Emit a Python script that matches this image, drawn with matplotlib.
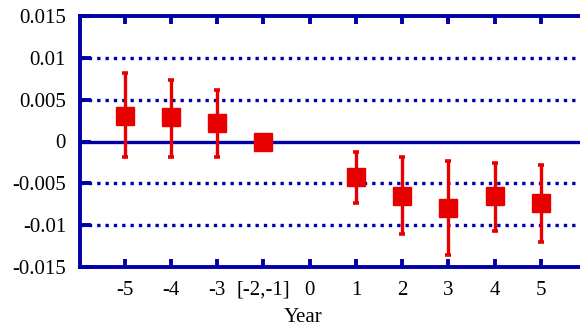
import matplotlib
matplotlib.use("Agg")
import matplotlib.pyplot as plt
import numpy as np

# data
labels = ['-5', '-4', '-3', '[-2,-1]', '0', '1', '2', '3', '4', '5']
estimate = [0.0031, 0.0029, 0.0022, 0.0, np.nan, -0.0043, -0.0065, -0.0079, -0.0065, -0.0073]
upper = [0.0082, 0.0074, 0.0062, 0.0, np.nan, -0.0012, -0.0019, -0.0023, -0.0026, -0.0028]
lower = [-0.0019, -0.0018, -0.0019, 0.0, np.nan, -0.0073, -0.0111, -0.0136, -0.0107, -0.0120]

blue = '#0000A8'
red = '#E80000'

plt.rcParams['font.family'] = ['Liberation Serif', 'DejaVu Serif']

fig = plt.figure(figsize=(5.8, 3.28), dpi=100)
ax = fig.add_axes([80 / 580, 1 - 267 / 328, 1 - 80 / 580, (267 - 16) / 328])

x = np.arange(len(labels))
est = np.array(estimate)
yerr = np.vstack([est - np.array(lower), np.array(upper) - est])

for y in [-0.01, -0.005, 0.005, 0.01]:
    ax.axhline(y, color=blue, linewidth=2.4, linestyle=(0, (1, 1.5)), zorder=1)
ax.axhline(0, color=blue, linewidth=2.4, zorder=1)

ax.errorbar(x, est, yerr=yerr, fmt='none', ecolor=red, elinewidth=2.4,
            capsize=2.5, capthick=2.6, zorder=2)
ax.plot(x, est, 's', color=red, markersize=13, zorder=3)

ax.set_xlim(-0.97, 9.85)
ax.set_ylim(-0.015, 0.015)
ax.set_xticks(x)
ax.set_xticklabels(labels)
ax.set_yticks([-0.015, -0.01, -0.005, 0, 0.005, 0.01, 0.015])
ax.set_yticklabels(['-0.015', '-0.01', '-0.005', '0', '0.005', '0.01', '0.015'])

for side in ['left', 'top', 'bottom']:
    ax.spines[side].set_color(blue)
    ax.spines[side].set_linewidth(2.8)
ax.spines['right'].set_visible(False)

ax.tick_params(axis='x', direction='in', length=6, width=2.8, color=blue,
               top=True, labelsize=15, pad=10)
ax.tick_params(axis='y', direction='in', length=8, width=2.8, color=blue,
               labelsize=15, pad=10)

ax.set_xlabel('Year', fontsize=15)
ax.xaxis.set_label_coords((303 - 80) / 500, -0.165)

fig.savefig('out.png', dpi=100)
